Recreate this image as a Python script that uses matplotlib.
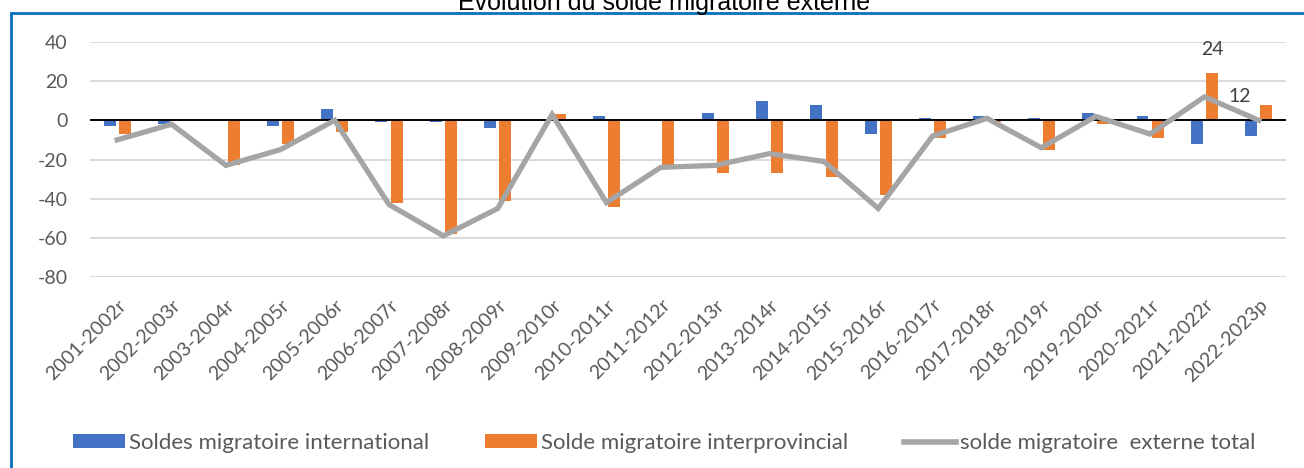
import matplotlib
matplotlib.use("Agg")
import matplotlib.pyplot as plt
import numpy as np
from matplotlib.patches import Rectangle
from matplotlib.lines import Line2D
from matplotlib.patches import Patch

categories = ["2001-2002r", "2002-2003r", "2003-2004r", "2004-2005r", "2005-2006r",
              "2006-2007r", "2007-2008r", "2008-2009r", "2009-2010r", "2010-2011r",
              "2011-2012r", "2012-2013r", "2013-2014r", "2014-2015r", "2015-2016r",
              "2016-2017r", "2017-2018r", "2018-2019r", "2019-2020r", "2020-2021r",
              "2021-2022r", "2022-2023p"]
international = [-3, -2, 0, -3, 6, -1, -1, -4, 0, 2, 0, 4, 10, 8, -7, 1, 2, 1, 4, 2, -12, -8]
interprovincial = [-7, 0, -23, -12, -6, -42, -58, -41, 3, -44, -23, -27, -27, -29, -38, -9, -1, -15, -2, -9, 24, 8]
total = [-10, -2, -23, -15, 0, -43, -59, -45, 3, -42, -24, -23, -17, -21, -45, -8, 1, -14, 2, -7, 12, 0]
yticks = [-80, -60, -40, -20, 0, 20, 40]

plt.rcParams['font.family'] = ['Lato', 'DejaVu Sans']

W, H = 1304, 468
fig = plt.figure(figsize=(W / 100, H / 100), dpi=100)
ax = fig.add_axes([90 / W, 1 - 277 / H, (1286 - 90) / W, (277 - 42) / H])

x = np.arange(len(categories))
bw = 0.22
off = 0.14
ax.bar(x - off, international, width=bw, color="#4472C4", zorder=2)
ax.bar(x + off, interprovincial, width=bw, color="#ED7D31", zorder=2)
ax.plot(x, total, color="#A5A5A5", linewidth=3.8, zorder=3, solid_joinstyle='miter')
ax.axhline(0, color="black", linewidth=1.4, zorder=2.5)

ax.set_xlim(-0.5, len(categories) - 0.5)
ax.set_ylim(-80, 40)
ax.set_yticks(yticks)
ax.set_yticklabels([str(v) for v in yticks], fontsize=14, color="#595959")
ax.yaxis.grid(True, color="#D9D9D9", linewidth=1.4, zorder=0)
ax.set_axisbelow(True)
ax.set_xticks(x)
ax.set_xticklabels(categories, rotation=45, ha="right", rotation_mode="anchor",
                   fontsize=14, color="#595959")
ax.tick_params(axis="both", length=0)
ax.tick_params(axis="y", pad=16)
ax.tick_params(axis="x", pad=14)
for s in ax.spines.values():
    s.set_visible(False)

# data labels
i24 = 20
ax.annotate(str(interprovincial[i24]), (x[i24] + off, interprovincial[i24]), xytext=(0, 11),
            textcoords="offset points", ha="center", va="bottom", fontsize=14, color="#404040")
ax.annotate(str(total[i24]), (x[i24], total[i24]), xytext=(17, 0),
            textcoords="offset points", ha="left", va="center", fontsize=14, color="#404040")

# title (cut off at top)
fig.text(664 / W, 1 - 10 / H, "Évolution du solde migratoire externe", ha="center",
         va="baseline", fontsize=18, color="black", family="Liberation Sans")

# chart border
fig.patches.append(Rectangle((11 / W, -0.1), 1.2, 1 - 13 / H + 0.1, transform=fig.transFigure,
                             fill=False, edgecolor="#0070C0", linewidth=2))

handles = [Patch(facecolor="#4472C4"), Patch(facecolor="#ED7D31"),
           Line2D([0], [0], color="#A5A5A5", linewidth=4)]
labels = ["Soldes migratoire international", "Solde migratoire interprovincial",
          "solde migratoire  externe total"]
fig.legend(handles, labels, loc="center", bbox_to_anchor=(664 / W, 1 - 443 / H), ncol=3,
           frameon=False, fontsize=16, handlelength=2.35, handleheight=0.6,
           handletextpad=0.18, columnspacing=2.5, labelcolor="#595959")

fig.savefig("out.png", dpi=100)
